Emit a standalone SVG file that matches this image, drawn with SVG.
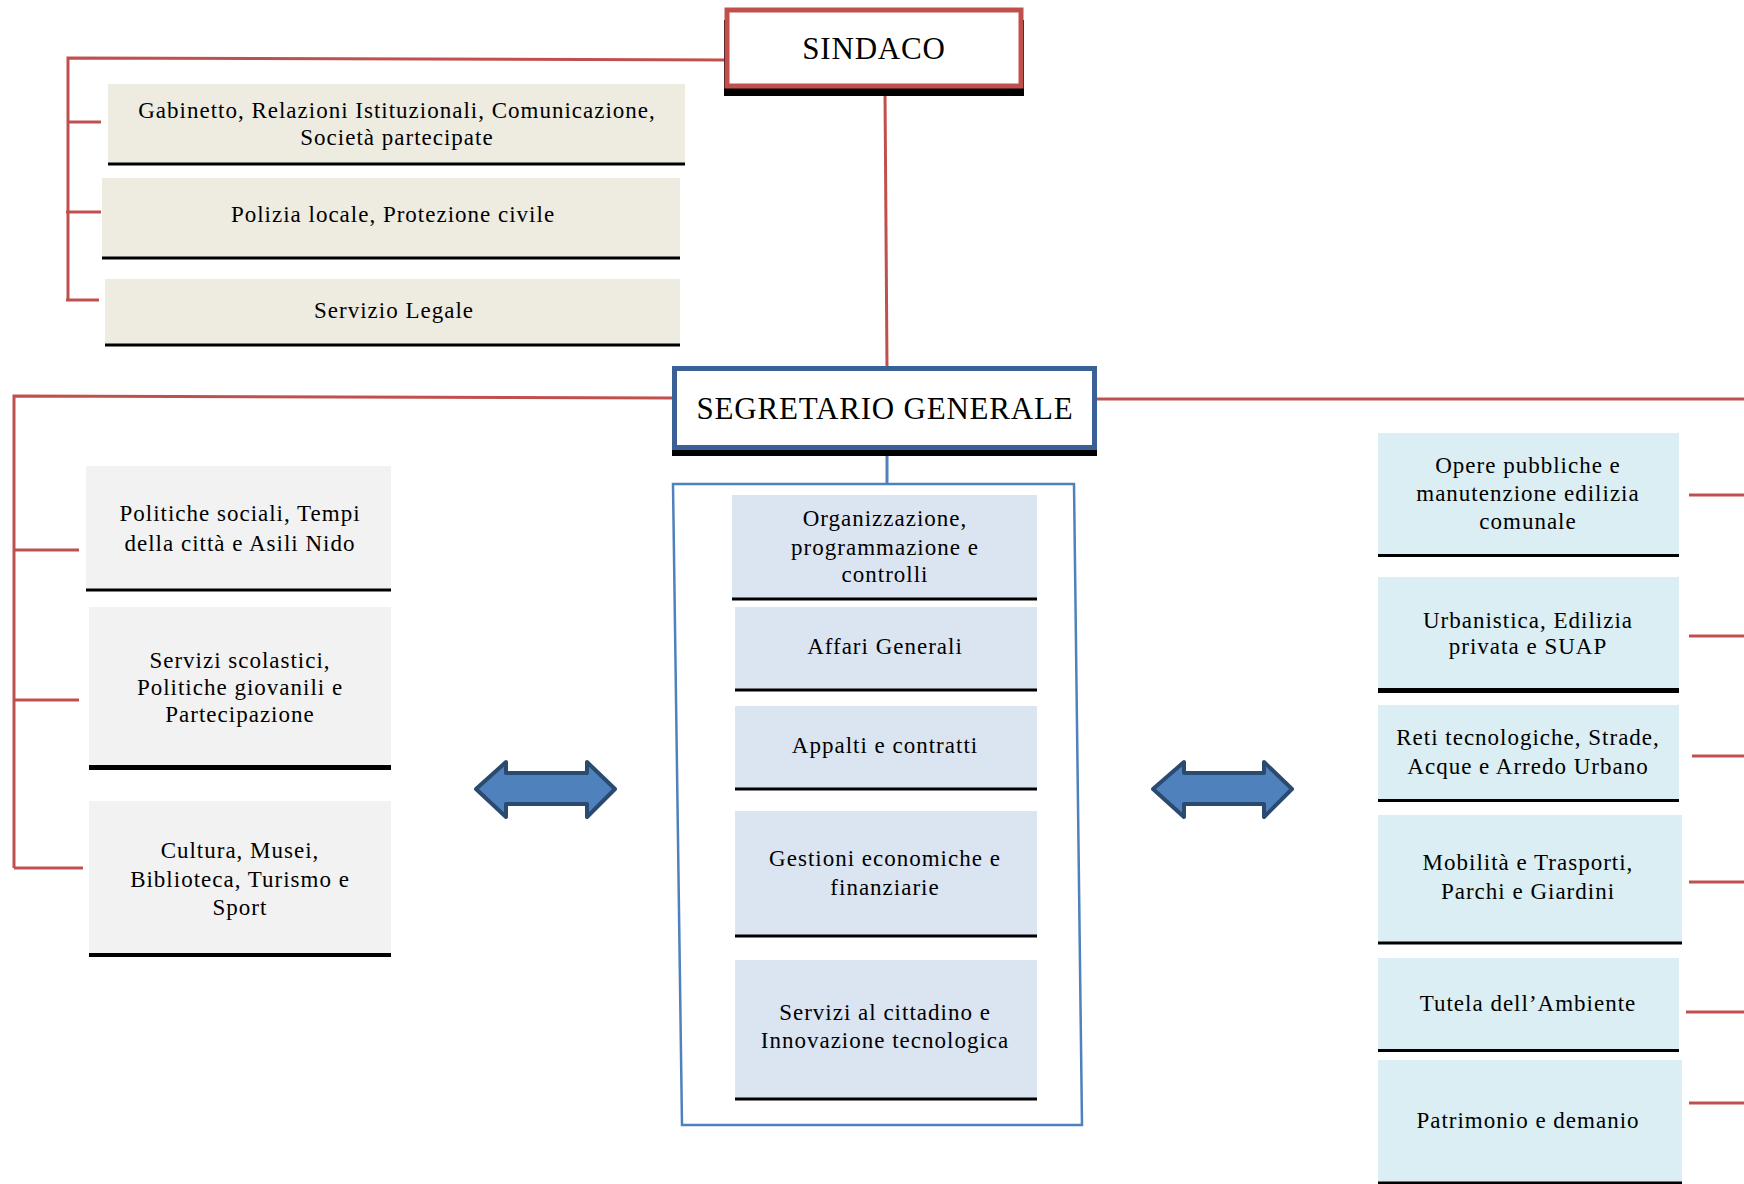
<svg xmlns="http://www.w3.org/2000/svg" width="1744" height="1184" viewBox="0 0 1744 1184">
<style>
.t{font-family:"Liberation Serif","Times New Roman",serif;font-size:23px;letter-spacing:1px;fill:#000;text-anchor:middle}
.big{font-size:31px;letter-spacing:0.8px}
.red{stroke:#C0504D;stroke-width:3;fill:none}
.bl{stroke:#000;stroke-width:3}
.tan{fill:#EEECE1}
.gry{fill:#F2F2F2}
.blu{fill:#DBE5F1}
.aqu{fill:#DAEEF3}
.arrow{fill:#4F81BD;stroke:#2B4A6F;stroke-width:4;stroke-linejoin:round}
</style>
<rect width="1744" height="1184" fill="#fff"/>
<g id="connectors">
<polyline class="red" points="729,60 68,58 68,300"/>
<line class="red" x1="68" y1="122" x2="101" y2="122"/>
<line class="red" x1="66" y1="212" x2="101" y2="212"/>
<line class="red" x1="66" y1="300" x2="99" y2="300"/>
<line class="red" x1="885" y1="92" x2="887" y2="367"/>
<polyline class="red" points="672,398 14,396 14,868"/>
<line class="red" x1="14" y1="550" x2="79" y2="550"/>
<line class="red" x1="14" y1="700" x2="79" y2="700"/>
<line class="red" x1="14" y1="868" x2="83" y2="868"/>
<line class="red" x1="1097" y1="399" x2="1744" y2="399"/>
<line class="red" x1="1689" y1="495" x2="1744" y2="495"/>
<line class="red" x1="1689" y1="636" x2="1744" y2="636"/>
<line class="red" x1="1692" y1="756" x2="1744" y2="756"/>
<line class="red" x1="1689" y1="882" x2="1744" y2="882"/>
<line class="red" x1="1686" y1="1012" x2="1744" y2="1012"/>
<line class="red" x1="1689" y1="1103" x2="1744" y2="1103"/>
<line x1="887" y1="455" x2="887" y2="485" stroke="#4F81BD" stroke-width="3"/>
<path class="arrow" d="M476,789 L506,762 L506,773 L587,773 L587,762 L615,789 L587,817 L587,804 L506,804 L506,817 Z"/>
<path class="arrow" d="M1153,789 L1184,762 L1184,773 L1264,773 L1264,762 L1292,789 L1264,817 L1264,804 L1184,804 L1184,817 Z"/>
</g>
<g id="sindaco">
<rect x="724" y="20" width="300" height="76" fill="#000"/>
<rect x="727" y="10" width="294" height="76" fill="#fff" stroke="#C0504D" stroke-width="5"/>
<text class="t big" x="874" y="59">SINDACO</text>
</g>
<g id="gabinetto">
<rect class="tan" x="108" y="84" width="577" height="79"/>
<line class="bl" x1="108" y1="164" x2="685" y2="164"/>
<text class="t" x="397" y="118">Gabinetto, Relazioni Istituzionali, Comunicazione,</text>
<text class="t" x="397" y="145">Società partecipate</text>
</g>
<g id="polizia">
<rect class="tan" x="102" y="178" width="578" height="79"/>
<line class="bl" x1="102" y1="258" x2="680" y2="258"/>
<text class="t" x="393" y="222">Polizia locale, Protezione civile</text>
</g>
<g id="legale">
<rect class="tan" x="105" y="279" width="575" height="65"/>
<line class="bl" x1="105" y1="345" x2="680" y2="345"/>
<text class="t" x="394" y="318">Servizio Legale</text>
</g>
<g id="segretario">
<rect x="672" y="380" width="425" height="76" fill="#000"/>
<rect x="674.5" y="368.5" width="420" height="79" fill="#fff" stroke="#3A6096" stroke-width="5"/>
<text class="t big" x="885" y="419">SEGRETARIO GENERALE</text>
</g>
<g id="area-segretario">
<path d="M673,484 L1074,484 L1082,1125 L682,1125 Z" fill="none" stroke="#4F81BD" stroke-width="2.5"/>
</g>
<g id="organizzazione">
<rect class="blu" x="732" y="495" width="305" height="103"/>
<line class="bl" x1="732" y1="599" x2="1037" y2="599"/>
<text class="t" x="885" y="526">Organizzazione,</text>
<text class="t" x="885" y="555">programmazione e</text>
<text class="t" x="885" y="582">controlli</text>
</g>
<g id="affari">
<rect class="blu" x="735" y="607" width="302" height="82"/>
<line class="bl" x1="735" y1="690" x2="1037" y2="690"/>
<text class="t" x="885" y="654">Affari Generali</text>
</g>
<g id="appalti">
<rect class="blu" x="735" y="706" width="302" height="82"/>
<line class="bl" x1="735" y1="789" x2="1037" y2="789"/>
<text class="t" x="885" y="753">Appalti e contratti</text>
</g>
<g id="gestioni">
<rect class="blu" x="735" y="811" width="302" height="124"/>
<line class="bl" x1="735" y1="936" x2="1037" y2="936"/>
<text class="t" x="885" y="866">Gestioni economiche e</text>
<text class="t" x="885" y="895">finanziarie</text>
</g>
<g id="servizi-cittadino">
<rect class="blu" x="735" y="960" width="302" height="138"/>
<line class="bl" x1="735" y1="1099" x2="1037" y2="1099"/>
<text class="t" x="885" y="1020">Servizi al cittadino e</text>
<text class="t" x="885" y="1048">Innovazione tecnologica</text>
</g>
<g id="politiche-sociali">
<rect class="gry" x="86" y="466" width="305" height="123"/>
<line class="bl" x1="86" y1="590" x2="391" y2="590"/>
<text class="t" x="240" y="521">Politiche sociali, Tempi</text>
<text class="t" x="240" y="551">della città e Asili Nido</text>
</g>
<g id="servizi-scolastici">
<rect class="gry" x="89" y="607" width="302" height="158"/>
<line x1="89" y1="767.5" x2="391" y2="767.5" stroke="#000" stroke-width="5"/>
<text class="t" x="240" y="668">Servizi scolastici,</text>
<text class="t" x="240" y="695">Politiche giovanili e</text>
<text class="t" x="240" y="722">Partecipazione</text>
</g>
<g id="cultura">
<rect class="gry" x="89" y="801" width="302" height="152"/>
<line x1="89" y1="955" x2="391" y2="955" stroke="#000" stroke-width="4"/>
<text class="t" x="240" y="858">Cultura, Musei,</text>
<text class="t" x="240" y="887">Biblioteca, Turismo e</text>
<text class="t" x="240" y="915">Sport</text>
</g>
<g id="opere-pubbliche">
<rect class="aqu" x="1378" y="433" width="301" height="121"/>
<line class="bl" x1="1378" y1="555.5" x2="1679" y2="555.5"/>
<text class="t" x="1528" y="473">Opere pubbliche e</text>
<text class="t" x="1528" y="501">manutenzione edilizia</text>
<text class="t" x="1528" y="529">comunale</text>
</g>
<g id="urbanistica">
<rect class="aqu" x="1378" y="577" width="301" height="111"/>
<line x1="1378" y1="690.5" x2="1679" y2="690.5" stroke="#000" stroke-width="5"/>
<text class="t" x="1528" y="628">Urbanistica, Edilizia</text>
<text class="t" x="1528" y="654">privata e SUAP</text>
</g>
<g id="reti">
<rect class="aqu" x="1378" y="705" width="301" height="94"/>
<line class="bl" x1="1378" y1="800.5" x2="1679" y2="800.5"/>
<text class="t" x="1528" y="745">Reti tecnologiche, Strade,</text>
<text class="t" x="1528" y="774">Acque e Arredo Urbano</text>
</g>
<g id="mobilita">
<rect class="aqu" x="1378" y="815" width="304" height="127"/>
<line class="bl" x1="1378" y1="943" x2="1682" y2="943"/>
<text class="t" x="1528" y="870">Mobilità e Trasporti,</text>
<text class="t" x="1528" y="899">Parchi e Giardini</text>
</g>
<g id="tutela">
<rect class="aqu" x="1378" y="958" width="301" height="91"/>
<line class="bl" x1="1378" y1="1050.5" x2="1679" y2="1050.5"/>
<text class="t" x="1528" y="1011">Tutela dell’Ambiente</text>
</g>
<g id="patrimonio">
<rect class="aqu" x="1378" y="1060" width="304" height="122"/>
<line class="bl" x1="1378" y1="1183" x2="1682" y2="1183"/>
<text class="t" x="1528" y="1128">Patrimonio e demanio</text>
</g>
</svg>
